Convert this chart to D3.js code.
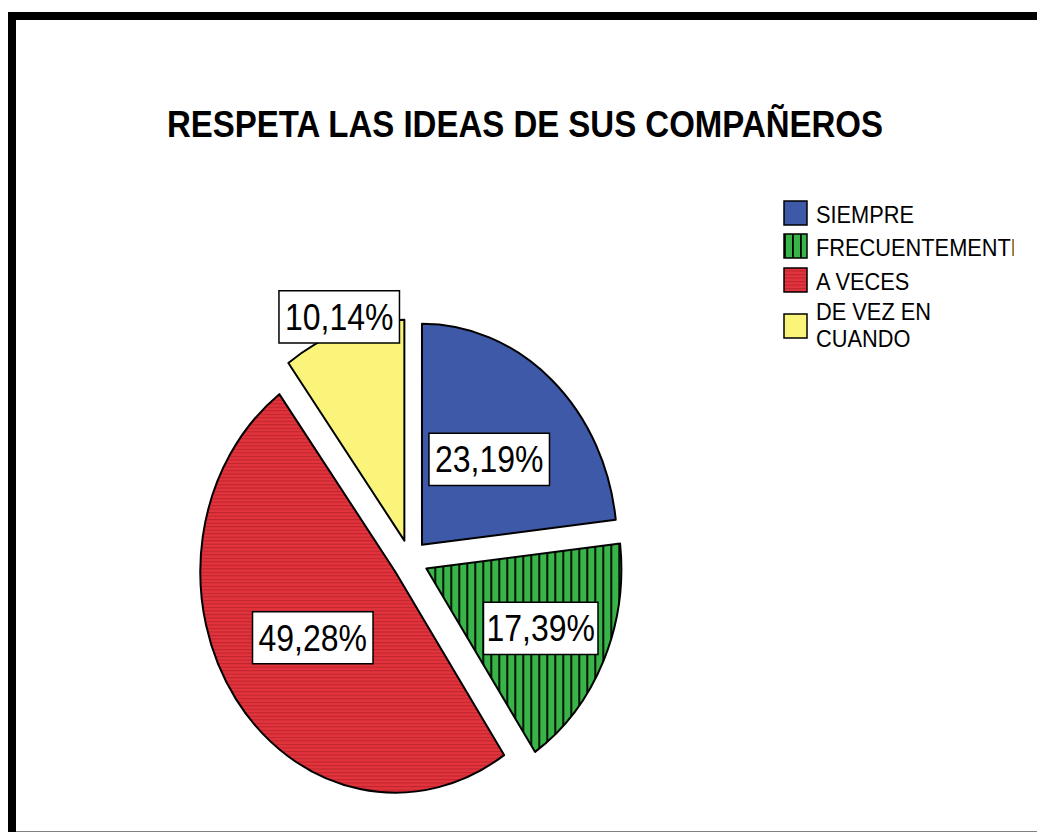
<!DOCTYPE html>
<html>
<head>
<meta charset="utf-8">
<script src="https://cdn.jsdelivr.net/npm/d3@7"></script>
<style>
  html, body { margin: 0; padding: 0; background: #fff; }
  svg { display: block; }
</style>
</head>
<body>
<svg id="chart" width="1037" height="832"></svg>
<script>
// ---- data ----
const title = "RESPETA LAS IDEAS DE SUS COMPAÑEROS";
const categories = ["SIEMPRE", "FRECUENTEMENTE", "A VECES", "DE VEZ EN CUANDO"];
const legendLines = [["SIEMPRE"], ["FRECUENTEMENTE"], ["A VECES"], ["DE VEZ EN", "CUANDO"]];
const values = [23.19, 17.39, 49.28, 10.14];
const labels = ["23,19%", "17,39%", "49,28%", "10,14%"];

// ---- styles ----
const colors = ["#3f59a9", "#38b449", "#e3343d", "#faf57a"];
const fills = ["#3f59a9", "url(#pGreen)", "url(#pRed)", "#faf57a"];

const svg = d3.select("#chart");
const W = 1037, H = 832;
const SY = 1.133; // vertical stretch of the original picture

// patterns
const defs = svg.append("defs");
const pg = defs.append("pattern").attr("id", "pGreen").attr("patternUnits", "userSpaceOnUse")
  .attr("width", 8).attr("height", 8);
pg.append("rect").attr("width", 8).attr("height", 8).attr("fill", colors[1]);
pg.append("rect").attr("x", 0).attr("width", 1.8).attr("height", 8).attr("fill", "#000");
const pr = defs.append("pattern").attr("id", "pRed").attr("patternUnits", "userSpaceOnUse")
  .attr("width", 8).attr("height", 3.1);
pr.append("rect").attr("width", 8).attr("height", 3.1).attr("fill", colors[2]);
pr.append("rect").attr("y", 0).attr("width", 8).attr("height", 1.0).attr("fill", "#bf252f");

defs.append("clipPath").attr("id", "legClip").append("rect")
  .attr("x", 0).attr("y", 0).attr("width", 1013.5).attr("height", H);

// frame
svg.append("rect").attr("x", 12).attr("y", 16).attr("width", W + 40).attr("height", 819.5)
  .attr("fill", "none").attr("stroke", "#000").attr("stroke-width", 8);

const root = svg.append("g").attr("transform", `scale(1,${SY})`);

// title
root.append("text").attr("x", 525).attr("y", 137 / SY)
  .attr("text-anchor", "middle")
  .attr("font-family", "Liberation Sans, Arial, sans-serif")
  .attr("font-weight", "bold").attr("font-size", 33)
  .text(title);

// pie
const cx = 410, cy = 560 / SY, R = 195, explode = 18;
const pie = d3.pie().sort(null).value(d => d)(values);
const arc = d3.arc().innerRadius(0).outerRadius(R);
const labelR = [101, 126, 101, 208];
const labelPad = [6, 3, 6, 6];

const pieG = root.append("g").attr("transform", `translate(${cx},${cy})`);
pie.forEach((p, i) => {
  const mid = (p.startAngle + p.endAngle) / 2;
  const ox = Math.sin(mid) * explode, oy = -Math.cos(mid) * explode;
  pieG.append("path")
    .attr("d", arc(p))
    .attr("transform", `translate(${ox},${oy})`)
    .attr("fill", fills[i])
    .attr("stroke", "#000").attr("stroke-width", 2)
    .attr("stroke-linejoin", "round")
    .attr("vector-effect", "non-scaling-stroke");
});

// labels
pie.forEach((p, i) => {
  const mid = (p.startAngle + p.endAngle) / 2;
  const ox = Math.sin(mid) * explode, oy = -Math.cos(mid) * explode;
  const lx = ox + Math.sin(mid) * labelR[i];
  const ly = oy - Math.cos(mid) * labelR[i];
  const g = pieG.append("g").attr("transform", `translate(${lx},${ly})`);
  const rect = g.append("rect").attr("fill", "#fff").attr("stroke", "#000")
    .attr("stroke-width", 1.5).attr("vector-effect", "non-scaling-stroke");
  const t = g.append("text").attr("text-anchor", "middle").attr("dy", "0.36em")
    .attr("font-family", "Liberation Sans, Arial, sans-serif").attr("font-size", 32)
    .text(labels[i]);
  const bb = t.node().getBBox();
  const bw = bb.width + 2 * labelPad[i], bh = 46;
  rect.attr("x", -bw / 2).attr("y", -bh / 2).attr("width", bw).attr("height", bh);
});

// legend
const leg = root.append("g").attr("clip-path", "url(#legClip)");
const swTop = [201, 234, 268, 314];
categories.forEach((c, i) => {
  leg.append("rect").attr("x", 784).attr("y", swTop[i] / SY)
    .attr("width", 23).attr("height", 24 / SY)
    .attr("fill", fills[i]).attr("stroke", "#000").attr("stroke-width", 1.5)
    .attr("vector-effect", "non-scaling-stroke");
  const lines = legendLines[i];
  const baseY = lines.length === 1 ? (swTop[i] + 22) : (swTop[i] + 6);
  lines.forEach((ln, j) => {
    leg.append("text").attr("x", 816).attr("y", (baseY + j * 27) / SY)
      .attr("font-family", "Liberation Sans, Arial, sans-serif").attr("font-size", 21.8)
      .text(ln);
  });
});
</script>
</body>
</html>
